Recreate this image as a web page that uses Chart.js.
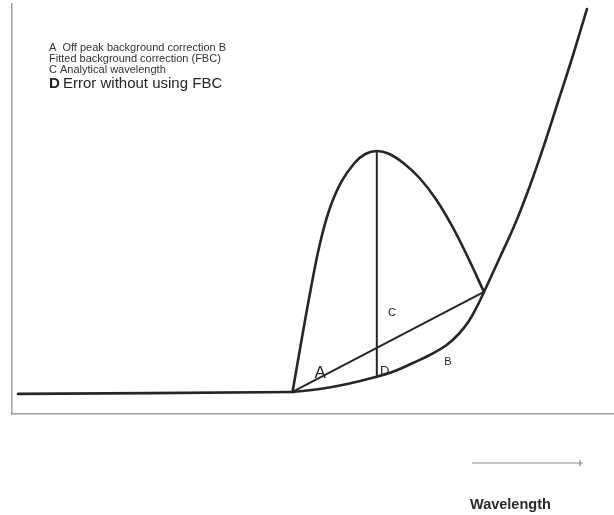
<!DOCTYPE html>
<html>
<head>
<meta charset="utf-8">
<script src="https://cdn.jsdelivr.net/npm/chart.js@4.4.1/dist/chart.umd.min.js"></script>
<style>
  html, body { margin: 0; padding: 0; background: #fff; }
  #wrap { width: 614px; height: 515px; position: relative; }
</style>
</head>
<body>
<div id="wrap"><canvas id="c" width="614" height="515"></canvas></div>
<script>
// Arbitrary units: wavelength 0-100 across, intensity 0-100 up.
const baselineX = [1.0, 22.8, 46.6];
const baselineY = [4.9, 5.1, 5.37];

// Fitted background (B), rising steeply at long wavelengths
const backgroundX = [46.6, 51.1, 55.7, 60.4, 63.6, 66.6, 69.4, 72.2, 74.2, 75.9, 77.2, 78.4, 81.0, 83.7, 86.2, 88.5, 90.8, 93.2, 95.5];
const backgroundY = [5.37, 6.1, 7.32, 9.02, 10.49, 12.44, 14.39, 16.83, 19.51, 22.68, 26.1, 29.76, 38.05, 46.83, 56.34, 66.1, 76.59, 87.56, 98.78];

// Analyte peak sitting on the background
const peakX = [46.6, 48.1, 49.6, 51.1, 52.7, 54.7, 56.9, 58.7, 60.6, 62.7, 65.2, 67.7, 70.4, 73.0, 75.7, 78.4];
const peakY = [5.37, 18.05, 30.24, 41.22, 49.76, 56.59, 61.22, 63.41, 64.15, 63.41, 60.98, 57.56, 52.44, 46.1, 38.29, 29.76];

// Off-peak (straight) background correction A
const offPeakX = [46.6, 78.4];
const offPeakY = [5.37, 29.76];

// Analytical wavelength C
const analyticalX = [60.6, 60.6];
const analyticalY = [64.15, 9.02];

// Letter markers placed on the diagram
const markText = ['A', 'C', 'D', 'B'];
const markX = [51.2, 63.1, 61.9, 72.4];
const markY = [10.0, 24.6, 10.4, 12.6];
const markSize = [17, 11, 13, 11];

const legendLines = [
  'A  Off peak background correction B',
  'Fitted background correction (FBC)',
  'C Analytical wavelength'
];
const legendLast = ['D', ' Error without using FBC'];
const axisTitle = 'Wavelength';

const toPts = (xs, ys) => xs.map((x, i) => ({ x: x, y: ys[i] }));
const ink = '#262626';

const annotate = {
  id: 'annotate',
  afterDatasetsDraw(chart) {
    const { ctx, scales: { x, y } } = chart;
    ctx.save();
    ctx.fillStyle = ink;
    ctx.textAlign = 'center';
    ctx.textBaseline = 'middle';
    markText.forEach((t, i) => {
      ctx.font = markSize[i] + 'px "Liberation Sans", Arial, sans-serif';
      ctx.fillText(t, x.getPixelForValue(markX[i]), y.getPixelForValue(markY[i]));
    });

    // key text, top left
    ctx.textAlign = 'left';
    ctx.textBaseline = 'middle';
    ctx.font = '11px "Liberation Sans", Arial, sans-serif';
    ctx.fillStyle = '#333';
    legendLines.forEach((t, i) => ctx.fillText(t, 49, 48 + i * 11));
    ctx.fillStyle = ink;
    ctx.font = 'bold 15px "Liberation Sans", Arial, sans-serif';
    ctx.fillText(legendLast[0], 49, 84);
    const w = ctx.measureText(legendLast[0]).width;
    ctx.font = '15px "Liberation Sans", Arial, sans-serif';
    ctx.fillText(legendLast[1], 49 + w - 1, 84);

    // direction arrow and axis caption below the plot
    ctx.strokeStyle = '#8a8a8a';
    ctx.lineWidth = 1.2;
    ctx.beginPath();
    ctx.moveTo(472, 463);
    ctx.lineTo(583, 463);
    ctx.moveTo(580, 460);
    ctx.lineTo(580, 466);
    ctx.stroke();

    ctx.fillStyle = '#2a2a2a';
    ctx.font = 'bold 14.5px "Liberation Sans", Arial, sans-serif';
    ctx.textAlign = 'left';
    ctx.fillText(axisTitle, 470, 505);
    ctx.restore();
  }
};

new Chart(document.getElementById('c'), {
  type: 'line',
  data: {
    datasets: [
      { data: toPts(baselineX, baselineY), borderColor: ink, borderWidth: 2.6, tension: 0 },
      { data: toPts(backgroundX, backgroundY), borderColor: ink, borderWidth: 2.6, tension: 0.4 },
      { data: toPts(peakX, peakY), borderColor: ink, borderWidth: 2.6, tension: 0.4 },
      { data: toPts(offPeakX, offPeakY), borderColor: ink, borderWidth: 2, tension: 0 },
      { data: toPts(analyticalX, analyticalY), borderColor: ink, borderWidth: 2, tension: 0 }
    ]
  },
  options: {
    responsive: false,
    animation: false,
    parsing: false,
    elements: { point: { radius: 0 }, line: { borderCapStyle: 'round', borderJoinStyle: 'round' } },
    layout: { padding: { left: 12, top: 4, right: 0, bottom: 101 } },
    plugins: { legend: { display: false }, tooltip: { enabled: false } },
    scales: {
      x: {
        type: 'linear', min: 0, max: 100,
        ticks: { display: false },
        grid: { drawOnChartArea: false, drawTicks: false },
        border: { color: '#a0a0a0', width: 1.5 }
      },
      y: {
        type: 'linear', min: 0, max: 100,
        ticks: { display: false },
        grid: { drawOnChartArea: false, drawTicks: false },
        border: { color: '#a0a0a0', width: 1.5 }
      }
    }
  },
  plugins: [annotate]
});
</script>
</body>
</html>
